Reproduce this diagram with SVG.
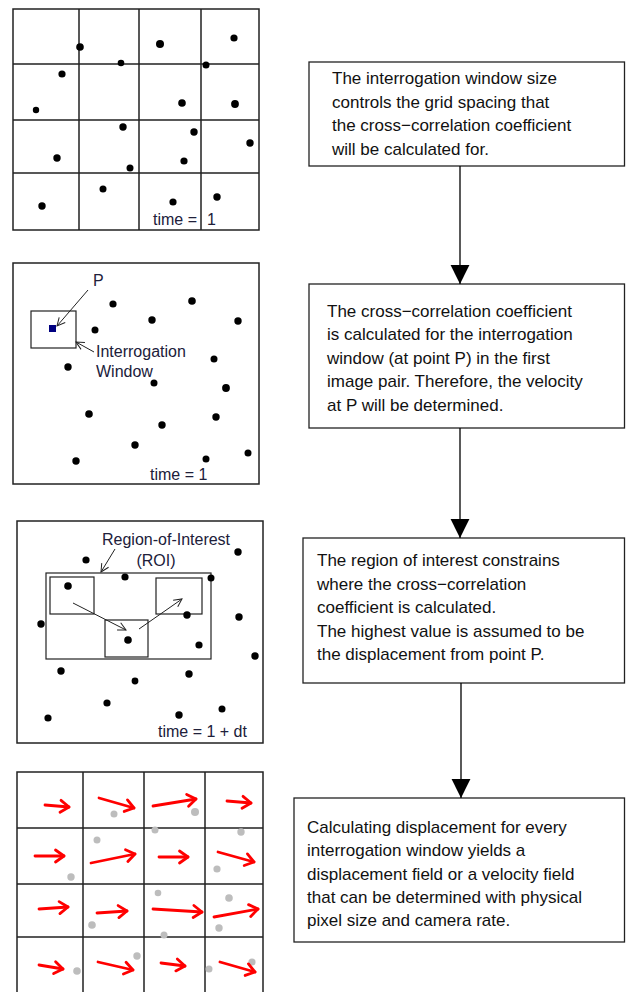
<svg xmlns="http://www.w3.org/2000/svg" width="626" height="992" viewBox="0 0 626 992">
<style>
.frame{fill:#fff;stroke:#222;stroke-width:1.5}
.grid{stroke:#222;stroke-width:1.5;fill:none}
.dot{fill:#000}
.gdot{fill:#bdbdbd}
.lbl{font-family:"Liberation Sans",Arial,sans-serif;font-size:16px;fill:#20203a}
.box{fill:#fff;stroke:#222;stroke-width:1.3}
.txt{font-family:"Liberation Sans",Arial,sans-serif;font-size:17px;fill:#111}
.thin{stroke:#222;stroke-width:1.2;fill:none}
.ptr{stroke:#222;stroke-width:1;fill:none;marker-end:url(#open)}
.red{stroke:#ff0000;stroke-width:2.8;fill:none;stroke-linecap:round;stroke-linejoin:round;marker-end:url(#redhead)}
.conn{stroke:#000;stroke-width:1.3;fill:none;marker-end:url(#tri)}
</style>
<defs>
<marker id="open" markerUnits="userSpaceOnUse" markerWidth="12" markerHeight="12" refX="0" refY="0" viewBox="-10 -6 12 12" orient="auto" overflow="visible">
<path d="M-8,-4 L0,0 L-8,4" fill="none" stroke="#222" stroke-width="1"/>
</marker>
<marker id="redhead" markerUnits="userSpaceOnUse" markerWidth="14" markerHeight="14" viewBox="-12 -7 14 14" refX="0" refY="0" orient="auto" overflow="visible">
<path d="M-8.5,-6 L0,0 L-8.5,6" fill="none" stroke="#ff0000" stroke-width="2.8" stroke-linecap="round" stroke-linejoin="round"/>
</marker>
<marker id="tri" markerUnits="userSpaceOnUse" markerWidth="20" markerHeight="20" viewBox="-17 -9 18 18" refX="0" refY="0" orient="auto" overflow="visible">
<path d="M-17,-8.5 L0,0 L-17,8.5 Z" fill="#000"/>
</marker>
</defs>
<rect width="626" height="992" fill="#fff"/>

<g id="panel1">
<rect class="frame" x="13" y="9" width="246" height="221"/>
<path class="grid" d="M79,9V230M139,9V230M201,9V230M13,64H259M13,120H259M13,173H259"/>
<g class="dot">
<circle cx="80" cy="47" r="3.8"/><circle cx="160" cy="44" r="4"/><circle cx="234" cy="38" r="3.6"/>
<circle cx="121" cy="63" r="3.3"/><circle cx="206" cy="65" r="3.5"/><circle cx="62" cy="74" r="3.6"/>
<circle cx="36" cy="110" r="3.2"/><circle cx="182" cy="103" r="3.8"/><circle cx="235" cy="104" r="3.9"/>
<circle cx="123" cy="127" r="3.7"/><circle cx="194" cy="132" r="3.7"/><circle cx="250" cy="143" r="3.7"/>
<circle cx="57" cy="158" r="3.7"/><circle cx="184" cy="161" r="3.6"/><circle cx="130" cy="168" r="3.5"/>
<circle cx="103" cy="189" r="3.5"/><circle cx="217" cy="197" r="3.7"/><circle cx="42" cy="206" r="3.7"/>
<circle cx="173" cy="202" r="3.6"/>
</g>
<text class="lbl" x="153" y="225">time = <tspan x="207">1</tspan></text>
</g>

<g id="panel2">
<rect class="frame" x="13" y="263" width="246" height="221"/>
<rect class="thin" x="31" y="311" width="45" height="37"/>
<rect x="49" y="325" width="7" height="7" fill="#000080"/>
<g class="dot">
<circle cx="113" cy="304" r="3.6"/><circle cx="192" cy="301" r="3.8"/><circle cx="152" cy="320" r="3.7"/>
<circle cx="238" cy="321" r="3.7"/><circle cx="95" cy="330" r="3.5"/><circle cx="68" cy="367" r="3.7"/>
<circle cx="214" cy="359" r="3.5"/><circle cx="154" cy="383" r="3.5"/><circle cx="226" cy="388" r="3.9"/>
<circle cx="89" cy="414" r="3.8"/><circle cx="216" cy="417" r="3.7"/><circle cx="162" cy="425" r="3.7"/>
<circle cx="135" cy="445" r="3.7"/><circle cx="76" cy="461" r="3.7"/><circle cx="206" cy="459" r="3.5"/>
<circle cx="248" cy="453" r="3.5"/>
</g>
<text class="lbl" x="93" y="286">P</text>
<path class="ptr" d="M88,290 L57,326"/>
<text class="lbl" x="96" y="357">Interrogation</text>
<text class="lbl" x="96" y="377">Window</text>
<path class="ptr" d="M94,352 L76,342"/>
<text class="lbl" x="150" y="480">time = 1</text>
</g>

<g id="panel3">
<rect class="frame" x="17" y="521" width="246" height="222"/>
<rect class="thin" x="46" y="573" width="165" height="86"/>
<rect class="thin" x="50" y="577" width="44" height="37"/>
<rect class="thin" x="105" y="620" width="43" height="37"/>
<rect class="thin" x="156" y="578" width="46" height="36"/>
<g class="dot">
<circle cx="238" cy="552" r="3.7"/><circle cx="86" cy="560" r="3.6"/><circle cx="125" cy="577" r="3.6"/>
<circle cx="211" cy="578" r="3.5"/><circle cx="68" cy="586" r="3.8"/><circle cx="187" cy="615" r="3.7"/>
<circle cx="239" cy="617" r="3.7"/><circle cx="41" cy="624" r="3.7"/><circle cx="128" cy="640" r="3.8"/>
<circle cx="199" cy="645" r="3.6"/><circle cx="255" cy="656" r="3.7"/><circle cx="61" cy="671" r="3.7"/>
<circle cx="189" cy="674" r="3.7"/><circle cx="135" cy="681" r="3.4"/><circle cx="107" cy="703" r="3.6"/>
<circle cx="222" cy="709" r="3.5"/><circle cx="179" cy="715" r="3.7"/><circle cx="48" cy="718" r="3.6"/>
</g>
<path class="ptr" d="M73,603 L126,630"/>
<path class="ptr" d="M139,629 L182,599"/>
<text class="lbl" x="102" y="545">Region-of-Interest</text>
<text class="lbl" x="156" y="566" text-anchor="middle">(ROI)</text>
<path class="ptr" d="M115,549 L101,572"/>
<text class="lbl" x="158" y="737">time = 1 + dt</text>
</g>

<g id="panel4">
<path class="grid" d="M17,992V772H263V992M83,772V992M144,772V992M205,772V992M17,828H263M17,884H263M17,937H263"/>
<g class="gdot">
<circle cx="114" cy="814" r="3.5"/><circle cx="195" cy="812" r="4"/>
<circle cx="155" cy="830" r="3.5"/><circle cx="241" cy="832" r="3.7"/><circle cx="97" cy="840" r="3.5"/>
<circle cx="71" cy="877" r="3.7"/><circle cx="217" cy="869" r="3.6"/>
<circle cx="158" cy="893" r="3.3"/><circle cx="229" cy="898" r="3.8"/><circle cx="92" cy="925" r="3.8"/>
<circle cx="219" cy="928" r="3.7"/><circle cx="164" cy="935" r="3.5"/>
<circle cx="137" cy="956" r="3.7"/><circle cx="77" cy="971" r="3.8"/><circle cx="209" cy="969" r="3.5"/>
<circle cx="252" cy="962" r="3.6"/>
</g>
<g>
<path class="red" d="M45,805 L69,807"/><path class="red" d="M99,798 L134,808"/>
<path class="red" d="M153,806 L196,799"/><path class="red" d="M227,801 L251,803"/>
<path class="red" d="M35,856 L64,856"/><path class="red" d="M91,863 L135,854"/>
<path class="red" d="M159,857 L188,857"/><path class="red" d="M218,852 L254,862"/>
<path class="red" d="M39,909 L68,907"/><path class="red" d="M97,913 L127,911"/>
<path class="red" d="M153,909 L202,912"/><path class="red" d="M214,917 L258,909"/>
<path class="red" d="M39,965 L63,969"/><path class="red" d="M98,962 L133,970"/>
<path class="red" d="M161,963 L185,966"/><path class="red" d="M220,962 L255,972"/>
</g>
</g>

<g id="box1">
<rect class="box" x="309" y="62" width="315.5" height="104"/>
<text class="txt" x="332" y="84">The interrogation window size</text>
<text class="txt" x="332" y="107.5">controls the grid spacing that</text>
<text class="txt" x="332" y="131">the cross−correlation coefficient</text>
<text class="txt" x="332" y="154.5">will be calculated for.</text>
</g>

<g id="box2">
<rect class="box" x="309" y="284" width="315.5" height="144"/>
<text class="txt" x="327" y="317">The cross−correlation coefficient</text>
<text class="txt" x="327" y="340.4">is calculated for the interrogation</text>
<text class="txt" x="327" y="363.8">window (at point P) in the first</text>
<text class="txt" x="327" y="387.2">image pair. Therefore, the velocity</text>
<text class="txt" x="327" y="410.6">at P will be determined.</text>
</g>

<g id="box3">
<rect class="box" x="303" y="538" width="321.5" height="145"/>
<text class="txt" x="317" y="566">The region of interest constrains</text>
<text class="txt" x="317" y="589.5">where the cross−correlation</text>
<text class="txt" x="317" y="613">coefficient is calculated.</text>
<text class="txt" x="317" y="636.5">The highest value is assumed to be</text>
<text class="txt" x="317" y="660">the displacement from point P.</text>
</g>

<g id="box4">
<rect class="box" x="294" y="798" width="330.5" height="144"/>
<text class="txt" x="307" y="833">Calculating displacement for every</text>
<text class="txt" x="307" y="856.3">interrogation window yields a</text>
<text class="txt" x="307" y="879.6">displacement field or a velocity field</text>
<text class="txt" x="307" y="903">that can be determined with physical</text>
<text class="txt" x="307" y="926.3">pixel size and camera rate.</text>
</g>

<g id="connectors">
<path class="conn" d="M460,166 V284"/>
<path class="conn" d="M460,428 V538"/>
<path class="conn" d="M461,683 V798"/>
</g>
</svg>
